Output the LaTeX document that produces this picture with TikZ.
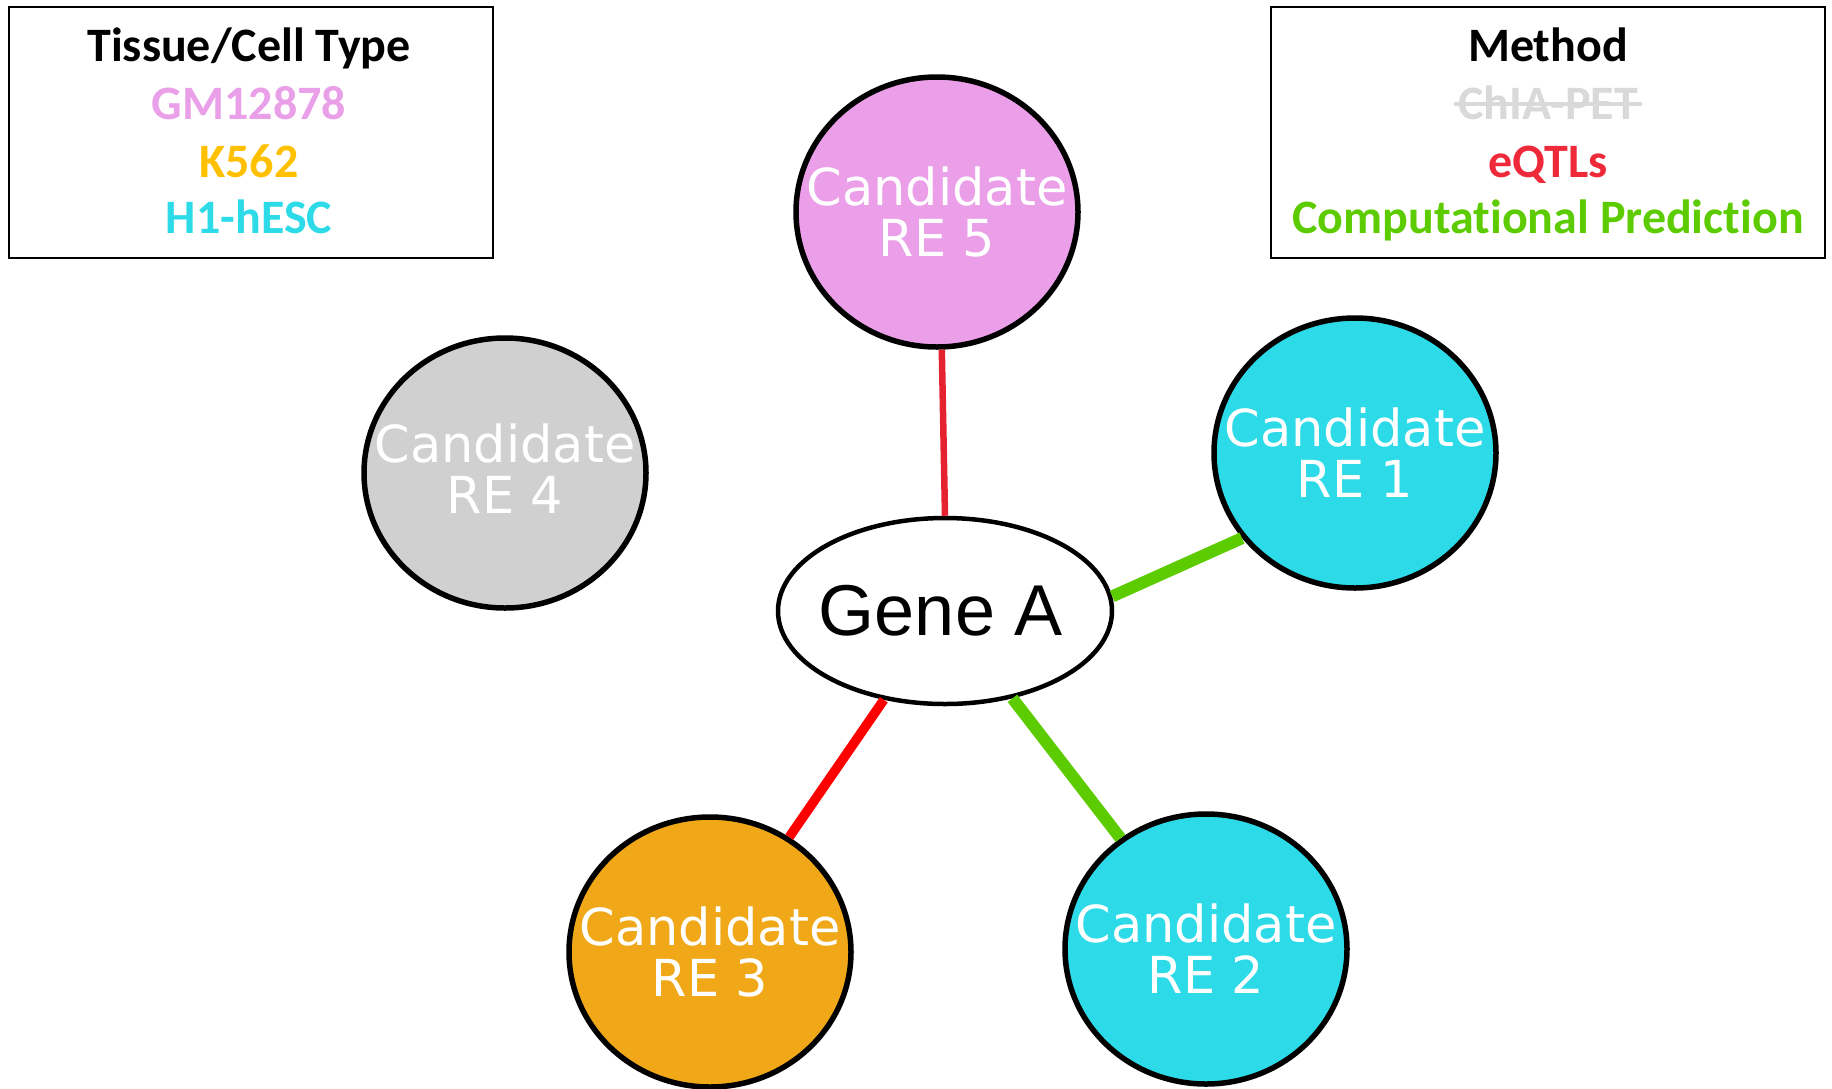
\documentclass[tikz,border=0pt]{standalone}
\usepackage{fontspec}
\usetikzlibrary{shapes.geometric}
\newfontfamily\legendfont[Ligatures=NoCommon]{Carlito}
\newfontfamily\nodefont{DejaVu Sans}
\newfontfamily\genefont{Liberation Sans}
\definecolor{rePink}{HTML}{EA9FE8}
\definecolor{reGray}{HTML}{D0D0D0}
\definecolor{reCyan}{HTML}{2DDAE8}
\definecolor{reOrange}{HTML}{F0A818}
\definecolor{lgPink}{HTML}{EAA0E8}
\definecolor{lgOrange}{HTML}{FFC000}
\definecolor{lgCyan}{HTML}{2DDAE8}
\definecolor{lgGray}{HTML}{D9D9D9}
\definecolor{lgRed}{HTML}{EE2A3A}
\definecolor{lgGreen}{HTML}{5CCC00}
\definecolor{edgeRed}{HTML}{E5222F}
\definecolor{edgeBright}{HTML}{FF0000}
\tikzset{
  legendbox/.style={draw=black, line width=2.2pt},
  legendtext/.style={font=\legendfont\bfseries\fontsize{48}{57}\selectfont, anchor=base, inner sep=0pt},
  renode/.style={ellipse, draw=black, line width=5.5pt, minimum width=282pt, minimum height=270pt, inner sep=0pt},
  relabel/.style={font=\nodefont\fontsize{51}{51}\selectfont, text=white, align=center, inner sep=0pt},
  genenode/.style={ellipse, draw=black, line width=4.5pt, minimum width=334pt, minimum height=186pt, inner sep=0pt, fill=white},
  genelabel/.style={font=\genefont\fontsize{72}{80}\selectfont, text=black, inner sep=0pt},
  thinred/.style={draw=edgeRed, line width=6.5pt},
  thickred/.style={draw=edgeBright, line width=9.5pt},
  thickgreen/.style={draw=lgGreen, line width=12pt}
}
\begin{document}
\begin{tikzpicture}[x=1pt, y=-1pt]
\useasboundingbox (0,0) rectangle (1832,1088);
% legends
\draw[legendbox] (9,7) rectangle (493,258);
\node[legendtext] (lt1) at (249,61) {Tissue/Cell Type};
\node[legendtext, text=lgPink] (lt2) at (249,119) {GM12878};
\node[legendtext, text=lgOrange] (lt3) at (249,177) {K562};
\node[legendtext, text=lgCyan] (lt4) at (249,233) {H1-hESC};
\draw[legendbox] (1271,7) rectangle (1825,258);
\node[legendtext] (mt1) at (1548,61) {Method};
\node[legendtext, text=lgGray] (chia) at (1548,119) {ChIA-PET};
\draw[lgGray, line width=3.5pt] ([xshift=-4pt, yshift=15pt]chia.base west) -- ([xshift=4pt, yshift=15pt]chia.base east);
\node[legendtext, text=lgRed] (mt3) at (1548,177) {eQTLs};
\node[legendtext, text=lgGreen] (mt4) at (1548,233) {Computational Prediction};
% nodes
\node[renode, fill=rePink] (re5) at (937,212) {};
\node[renode, fill=reGray] (re4) at (505,473) {};
\node[renode, fill=reCyan] (re1) at (1355,453) {};
\node[renode, fill=reOrange] (re3) at (710,952) {};
\node[renode, fill=reCyan] (re2) at (1206,949) {};
\node[genenode] (gene) at (945,611) {};
% edges
\draw[thinred] (re5.-88.3) -- (gene.north);
\draw[thickgreen] (gene.5) -- (re1.217);
\draw[thickred] (gene) -- (re3);
\draw[thickgreen] (gene) -- (re2);
% labels
\node[relabel] (re5t) at (re5.center) {Candidate\\RE 5};
\node[relabel] (re4t) at ([yshift=4pt]re4.center) {Candidate\\RE 4};
\node[relabel] (re1t) at (re1.center) {Candidate\\RE 1};
\node[relabel] (re3t) at (re3.center) {Candidate\\RE 3};
\node[relabel] (re2t) at (re2.center) {Candidate\\RE 2};
\node[genelabel] (genet) at ([xshift=-4pt]gene.center) {Gene A};
\end{tikzpicture}
\end{document}
